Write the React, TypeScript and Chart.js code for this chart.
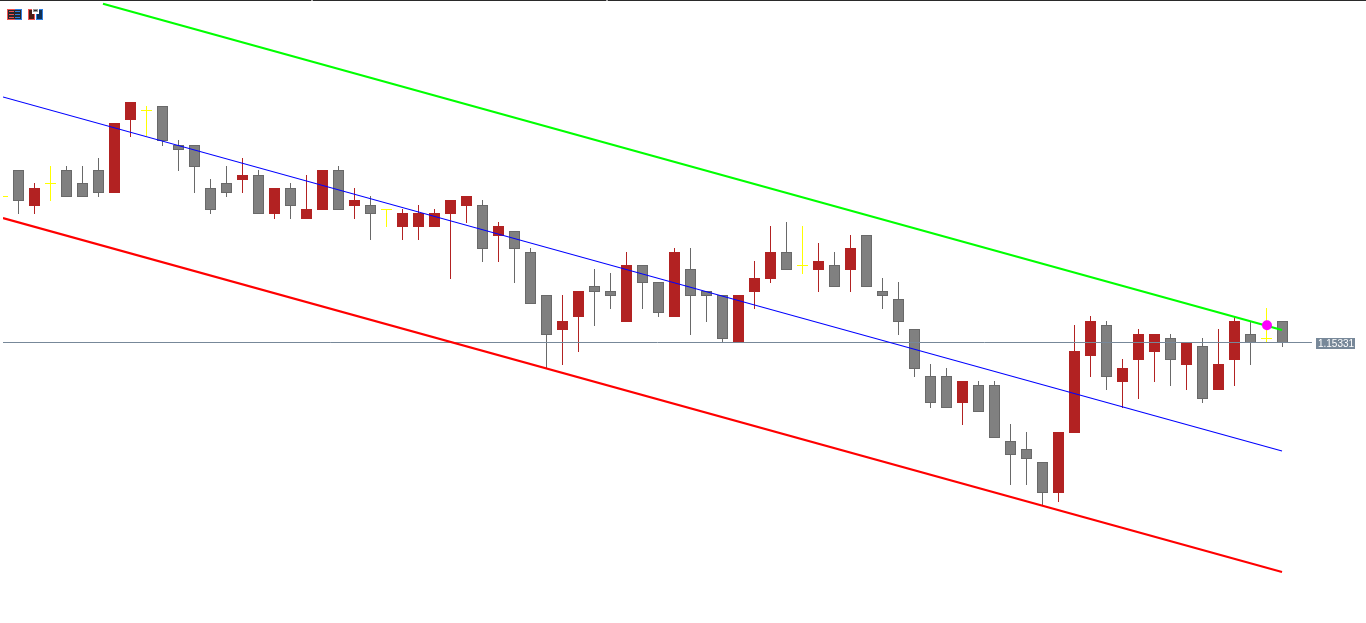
import React, { useEffect, useRef } from "react";
import { Chart, registerables } from "chart.js";

Chart.register(...registerables);

const opens = [
  1.16801, 1.17061, 1.16701, 1.16931, 1.17061, 1.16931, 1.17061, 1.16831, 1.17561, 1.17661,
  1.17701, 1.17311, 1.17311, 1.16881, 1.16931, 1.16961, 1.17011, 1.16621, 1.16881, 1.16571,
  1.16661, 1.17061, 1.16701, 1.16711, 1.16671, 1.16491, 1.16491, 1.16491, 1.16621, 1.16701,
  1.16711, 1.16401, 1.16451, 1.16241, 1.15811, 1.15461, 1.15591, 1.15901, 1.15851, 1.15541,
  1.16111, 1.15941, 1.15591, 1.16071, 1.15851, 1.15811, 1.15331, 1.15841, 1.15971, 1.16241,
  1.16111, 1.16061, 1.16111, 1.16061, 1.16411, 1.15851, 1.15771, 1.15471, 1.15001, 1.15001,
  1.14731, 1.14911, 1.14911, 1.14351, 1.14271, 1.14141, 1.13831, 1.14431, 1.15201, 1.15511,
  1.14941, 1.15161, 1.15241, 1.15381, 1.15111, 1.15301, 1.14861, 1.15161, 1.15421, 1.15381,
  1.15551,
];
const closes = [
  1.16801, 1.16751, 1.16881, 1.16931, 1.16791, 1.16791, 1.16831, 1.17531, 1.17741, 1.17661,
  1.17351, 1.17261, 1.17091, 1.16661, 1.16831, 1.17011, 1.16621, 1.16881, 1.16701, 1.16671,
  1.17061, 1.16661, 1.16761, 1.16621, 1.16671, 1.16631, 1.16631, 1.16631, 1.16761, 1.16801,
  1.16271, 1.16501, 1.16271, 1.15721, 1.15411, 1.15551, 1.15851, 1.15841, 1.15801, 1.16111,
  1.15931, 1.15631, 1.16241, 1.15801, 1.15801, 1.15371, 1.15811, 1.15981, 1.16241, 1.16061,
  1.16111, 1.16151, 1.15891, 1.16281, 1.15891, 1.15801, 1.15541, 1.15071, 1.14731, 1.14681,
  1.14951, 1.14641, 1.14381, 1.14211, 1.14171, 1.13831, 1.14441, 1.15251, 1.15551, 1.14991,
  1.15081, 1.15421, 1.15421, 1.15161, 1.15341, 1.14771, 1.15121, 1.15551, 1.15331, 1.15381,
  1.15331,
];
const highs = [
  1.16801, 1.17061, 1.16931, 1.17101, 1.17101, 1.17101, 1.17181, 1.17531, 1.17741, 1.17701,
  1.17701, 1.17361, 1.17311, 1.16971, 1.17101, 1.17181, 1.17061, 1.16881, 1.16931, 1.17011,
  1.17061, 1.17101, 1.16881, 1.16801, 1.16671, 1.16671, 1.16711, 1.16671, 1.16761, 1.16801,
  1.16761, 1.16541, 1.16451, 1.16281, 1.15811, 1.15811, 1.15851, 1.16071, 1.16031, 1.16241,
  1.16111, 1.15941, 1.16281, 1.16281, 1.15851, 1.15811, 1.15811, 1.16151, 1.16501, 1.16541,
  1.16501, 1.16331, 1.16241, 1.16411, 1.16411, 1.15981, 1.15941, 1.15471, 1.15121, 1.15081,
  1.14951, 1.14951, 1.14951, 1.14521, 1.14441, 1.14141, 1.14441, 1.15511, 1.15601, 1.15551,
  1.15171, 1.15471, 1.15421, 1.15421, 1.15341, 1.15381, 1.15471, 1.15601, 1.15551, 1.15681,
  1.15551,
];
const lows = [
  1.16791, 1.16621, 1.16621, 1.16751, 1.16791, 1.16791, 1.16791, 1.16831, 1.17391, 1.17401,
  1.17301, 1.17051, 1.16831, 1.16621, 1.16791, 1.16831, 1.16621, 1.16571, 1.16571, 1.16571,
  1.16661, 1.16661, 1.16571, 1.16361, 1.16491, 1.16361, 1.16361, 1.16491, 1.15971, 1.16531,
  1.16141, 1.16141, 1.15931, 1.15721, 1.15081, 1.15111, 1.15241, 1.15501, 1.15671, 1.15541,
  1.15671, 1.15591, 1.15591, 1.15411, 1.15541, 1.15331, 1.15331, 1.15671, 1.15931, 1.16061,
  1.16021, 1.15841, 1.15891, 1.15841, 1.15891, 1.15671, 1.15411, 1.14991, 1.14681, 1.14681,
  1.14511, 1.14641, 1.14381, 1.13911, 1.13911, 1.13711, 1.13741, 1.14431, 1.14991, 1.14861,
  1.14681, 1.14771, 1.14941, 1.14901, 1.14861, 1.14731, 1.14861, 1.14901, 1.15111, 1.15331,
  1.15291,
];

// Regression channel anchors: [bar index, price]
const channelMid = [[0.03, 1.17791], [79.97, 1.14251]];
const channelUpper = [[6.28, 1.18724], [79.97, 1.15461]];
const channelLower = [[0.03, 1.16581], [79.97, 1.13041]];
const priceLine = [[0.03, 1.15336], [81.84, 1.15336]];
const priceLabel = "1.15331";
const marker = [[79.03, 1.15508]];

const PIP = 0.0001;
const GRAY = "#808080";
const GRAY_EDGE = "#696969";
const RED = "#b22222";
const YELLOW = "#ffff00";
const SLATE = "#778899";

const bodyColor = (i: number) =>
  closes[i] > opens[i] ? RED : closes[i] < opens[i] ? GRAY : YELLOW;
const edgeColor = (i: number) =>
  closes[i] > opens[i] ? RED : closes[i] < opens[i] ? GRAY_EDGE : YELLOW;
const wickColor = edgeColor;

const toPoints = (pts: number[][]) => pts.map(([x, y]) => ({ x, y }));

const chrome = {
  id: "chrome",
  afterDraw(chart: any) {
    const { ctx } = chart;
    const yScale = chart.scales.y;
    ctx.save();
    // top window edge
    ctx.fillStyle = "#2a2a2a";
    ctx.fillRect(0, 0, 1366, 1);
    ctx.fillStyle = "#b0b0b0";
    ctx.fillRect(311, 0, 2, 1);
    ctx.fillRect(606, 0, 2, 1);
    // icon 1
    ctx.fillStyle = "#ef5350";
    ctx.fillRect(7, 9, 8, 11);
    ctx.fillStyle = "#2f7fe0";
    ctx.fillRect(15, 9, 7, 11);
    ctx.fillStyle = "#26262e";
    ctx.fillRect(8, 10, 13, 9);
    ctx.fillStyle = "#ef5350";
    ctx.fillRect(9, 11, 5, 1);
    ctx.fillRect(9, 14, 5, 1);
    ctx.fillRect(9, 17, 5, 1);
    ctx.fillStyle = "#2f7fe0";
    ctx.fillRect(15, 11, 5, 1);
    ctx.fillRect(15, 14, 5, 1);
    ctx.fillRect(15, 17, 5, 1);
    // icon 2
    ctx.fillStyle = "#ef5350";
    ctx.fillRect(28, 9, 7, 11);
    ctx.fillStyle = "#2f7fe0";
    ctx.fillRect(36, 9, 7, 11);
    ctx.fillStyle = "#4a1c14";
    ctx.fillRect(29, 10, 5, 9);
    ctx.fillStyle = "#0f2f55";
    ctx.fillRect(37, 10, 5, 9);
    ctx.fillStyle = "#ffffff";
    ctx.fillRect(32, 9, 7, 5);
    ctx.fillStyle = "#9a9a9a";
    ctx.fillRect(33, 9, 5, 3);
    ctx.fillStyle = "#333333";
    ctx.fillRect(34, 10, 3, 1);
    // price tag
    const yc = Math.round(yScale.getPixelForValue(priceLine[0][1]));
    ctx.fillStyle = SLATE;
    ctx.fillRect(1316, yc - 5, 39, 11);
    ctx.fillStyle = "#ffffff";
    ctx.font = '10px "Liberation Sans"';
    ctx.textAlign = "center";
    ctx.textBaseline = "middle";
    ctx.fillText(priceLabel, 1336, yc + 1);
    ctx.restore();
  },
};

export default function App() {
  const ref = useRef<HTMLCanvasElement | null>(null);

  useEffect(() => {
    if (!ref.current) return;
    const idx = opens.map((_, i) => i);
    const lineDefaults = { type: "line", pointRadius: 0, fill: false, tension: 0, parsing: true };
    const chart = new Chart(ref.current, {
      type: "bar",
      data: {
        datasets: [
          {
            type: "scatter",
            label: "Marker",
            data: toPoints(marker),
            pointRadius: 5,
            pointBorderWidth: 0,
            pointBackgroundColor: "#ff00ff",
            pointBorderColor: "#ff00ff",
            order: 1,
          },
          {
            ...lineDefaults,
            label: "Upper channel",
            data: toPoints(channelUpper),
            borderColor: "#00ff00",
            borderWidth: 2.2,
            order: 2,
          },
          {
            ...lineDefaults,
            label: "Middle channel",
            data: toPoints(channelMid),
            borderColor: "#0000ff",
            borderWidth: 1.1,
            order: 3,
          },
          {
            ...lineDefaults,
            label: "Lower channel",
            data: toPoints(channelLower),
            borderColor: "#ff0000",
            borderWidth: 2.2,
            order: 3,
          },
          {
            ...lineDefaults,
            label: "Price line",
            data: toPoints(priceLine),
            borderColor: SLATE,
            borderWidth: 1,
            order: 4,
          },
          {
            label: "Bodies",
            data: idx.map((i) => ({
              x: i,
              y: opens[i] === closes[i] ? [opens[i], opens[i] - PIP] : [opens[i], closes[i]],
            })),
            backgroundColor: idx.map(bodyColor),
            borderColor: idx.map(edgeColor),
            borderWidth: idx.map((i) => (closes[i] < opens[i] ? 1 : 0)),
            borderSkipped: false,
            inflateAmount: 0,
            grouped: false,
            barPercentage: 1,
            categoryPercentage: 1,
            barThickness: 11,
            maxBarThickness: 11,
            order: 5,
          },
          {
            label: "Wicks",
            data: idx.map((i) => ({ x: i, y: [lows[i], highs[i]] })),
            backgroundColor: idx.map(wickColor),
            borderWidth: 0,
            borderSkipped: false,
            inflateAmount: 0,
            grouped: false,
            barPercentage: 1,
            categoryPercentage: 1,
            barThickness: 1,
            maxBarThickness: 1,
            order: 6,
          },
        ],
      } as any,
      options: {
        animation: false,
        responsive: false,
        devicePixelRatio: 1,
        layout: { autoPadding: false, padding: { left: 3, right: 0, top: 0, bottom: 0 } },
        plugins: { legend: { display: false }, tooltip: { enabled: false } },
        scales: {
          x: { type: "linear", display: false, offset: false, min: 0.03125, max: 85.21875 },
          y: { type: "linear", display: false, offset: false, min: 1.12531, max: 1.18761 },
        },
      } as any,
      plugins: [chrome],
    });
    return () => chart.destroy();
  }, []);

  return (
    <div style={{ position: "absolute", left: 0, top: 0, width: 1366, height: 623, background: "#ffffff" }}>
      <canvas ref={ref} width={1366} height={623} style={{ display: "block" }} />
    </div>
  );
}
